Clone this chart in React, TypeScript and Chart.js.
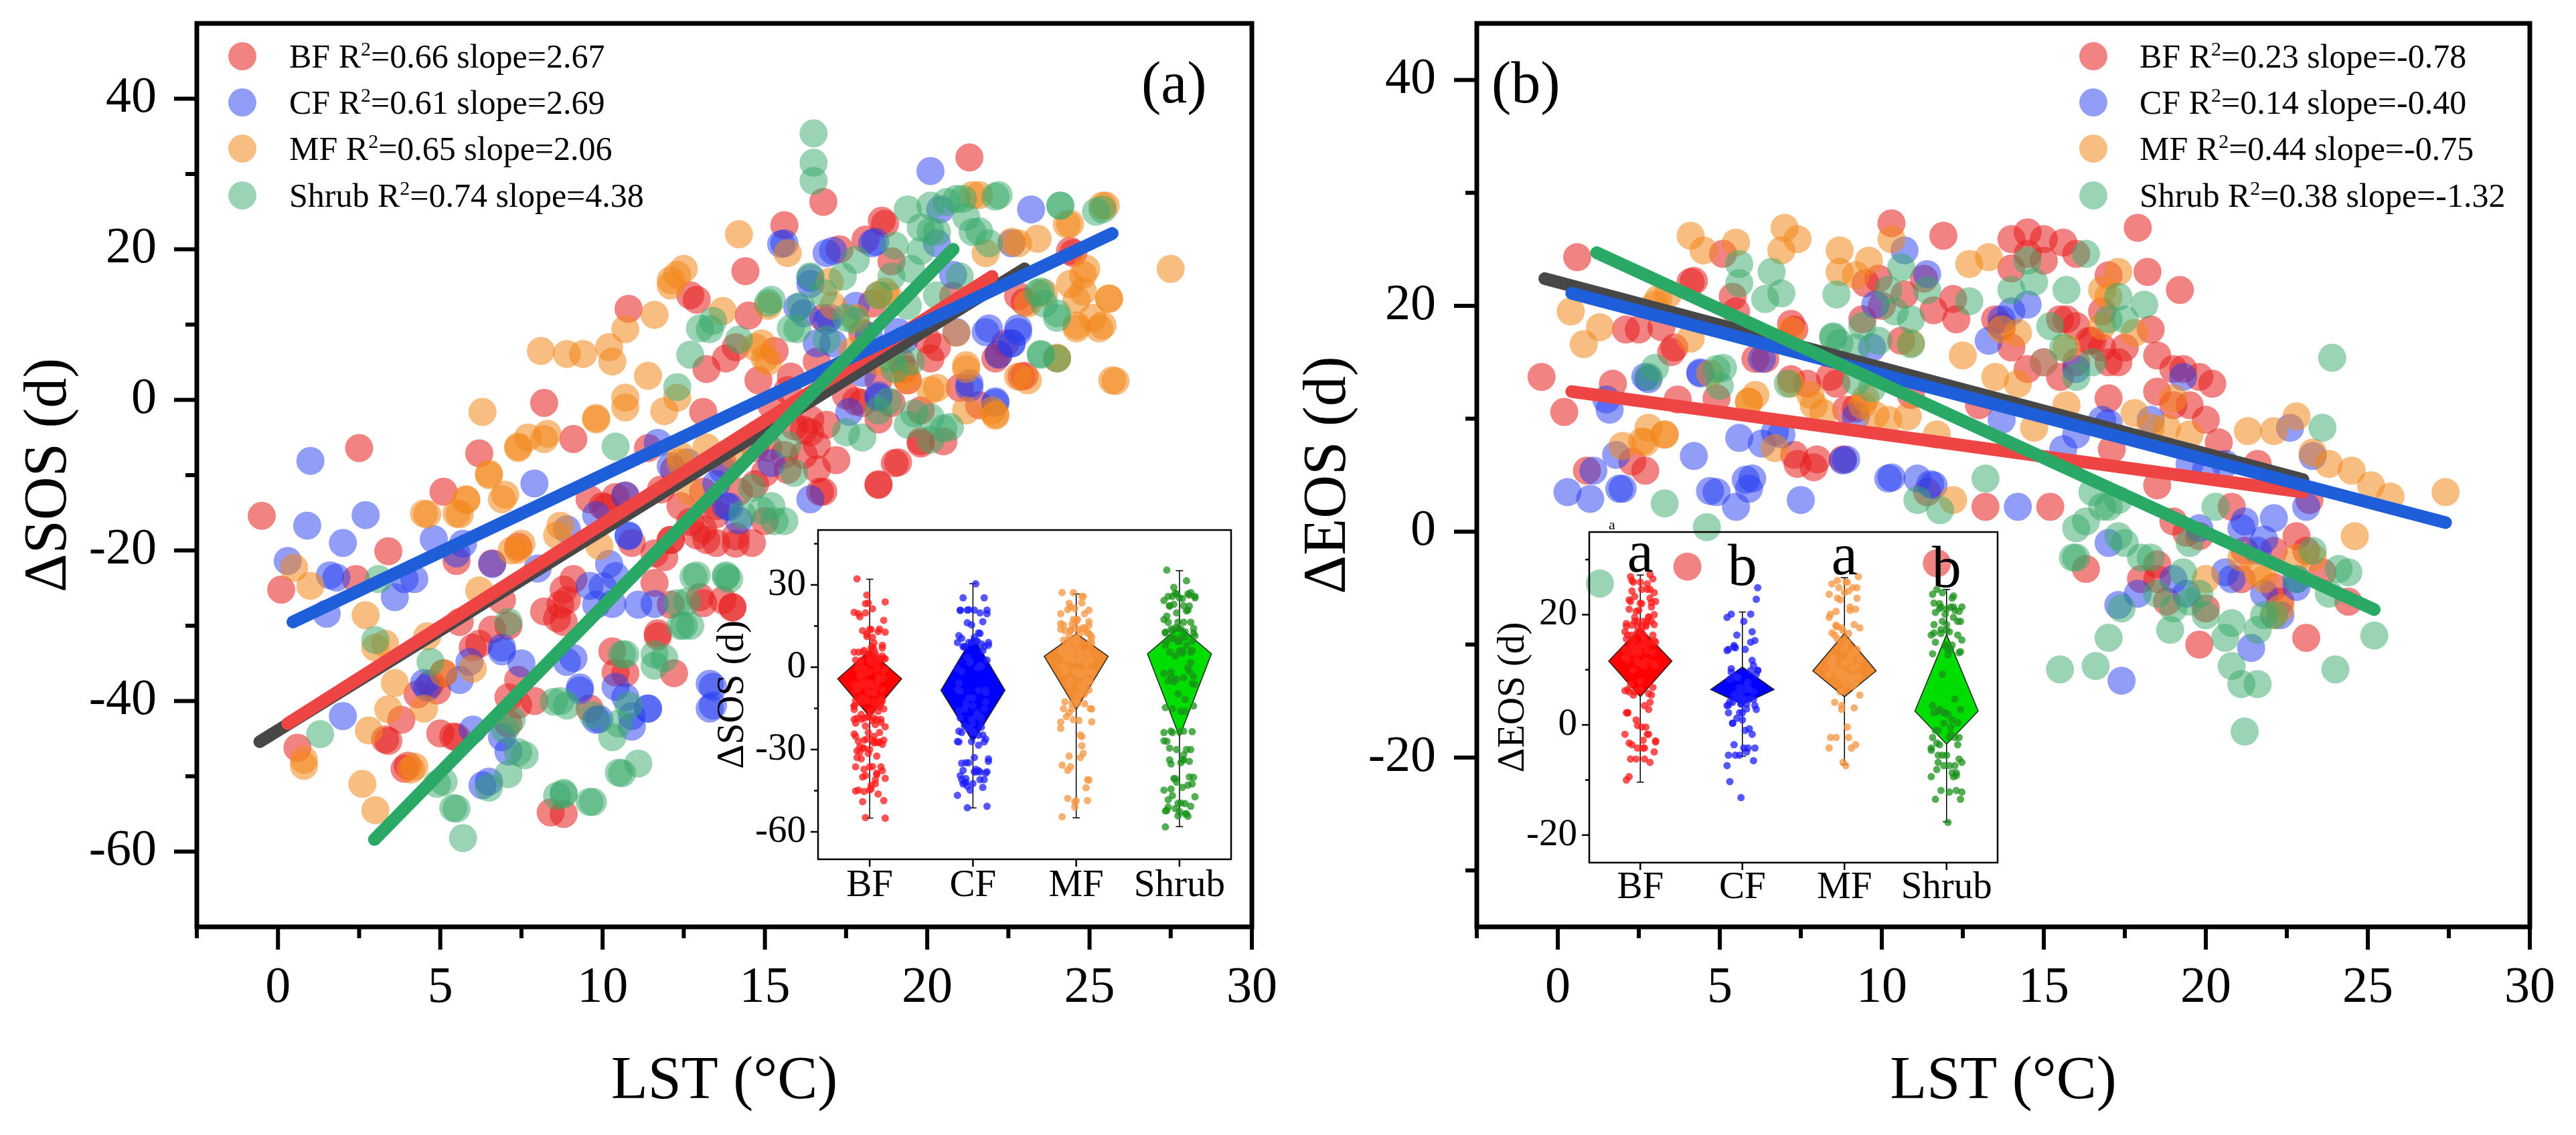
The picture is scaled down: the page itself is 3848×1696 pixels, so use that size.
import { useEffect, useRef } from 'react';
import { Chart, registerables } from 'chart.js';

Chart.register(...registerables);
Chart.defaults.font.family = "'Liberation Serif', 'Times New Roman', serif";
Chart.defaults.color = '#000';

type P = [number, number];

const CATS = ['BF', 'CF', 'MF', 'Shrub'];
const X_TICKS = [0, 5, 10, 15, 20, 25, 30];
const X_MINOR = [-2.5, 2.5, 7.5, 12.5, 17.5, 22.5, 27.5];
const SOS_TICKS = [-60, -40, -20, 0, 20, 40];
const SOS_MINOR = [-50, -30, -10, 10, 30];
const EOS_TICKS = [-20, 0, 20, 40];
const EOS_MINOR = [-30, -10, 10, 30];
const SOS_IN_TICKS = [-60, -30, 0, 30];
const SOS_IN_MINOR = [-45, -15, 15, 45];
const EOS_IN_TICKS = [-20, 0, 20];
const EOS_IN_MINOR = [-10, 10, 30];

const SOS_R2 = [0.66, 0.61, 0.65, 0.74];
const SOS_SLOPE = [2.67, 2.69, 2.06, 4.38];
const EOS_R2 = [0.23, 0.14, 0.44, 0.38];
const EOS_SLOPE = [-0.78, -0.40, -0.75, -1.32];

// ΔSOS vs LST
const SOS_BF: P[] = [[-0.5,-15.4],[0.1,-25.2],[2.5,-6.4],[3.4,-20.1],[2.4,-23.8],[3.3,-45.1],[3.8,-42.5],[3.9,-49],[5.1,-12.2],[5.4,-44.7],[6.2,-7.1],[6.2,-32.4],[5.6,-29.5],[6.9,-26.6],[7.1,-43],[8.2,-0.4],[9.1,-5.2],[8.4,-54.8],[8.8,-55],[8.9,-26.6],[8.6,-29],[9.1,-23.8],[10.8,12.1],[10,-14.1],[10.7,-12.7],[10.3,-33.4],[10.7,-36.3],[11.7,-31.4],[11.6,-20.4],[11.9,-20.9],[12.9,13.3],[13.2,4.1],[13.1,-1.6],[13.7,-8.4],[13.5,-14.1],[13.7,-26.6],[14.4,17.1],[14.1,7],[14.7,-6.4],[15,-16.1],[15.6,23.2],[15.2,-0.7],[15.7,-9.3],[16.4,-2.6],[16.8,-12.2],[16.8,26.3],[17.3,20],[18,8.9],[17.8,-0.2],[18.5,-11.3],[18.7,23.4],[19,-8.4],[19.3,4.1],[19.8,-5.5],[20,8],[20.8,13.8],[21.3,32.2],[21.6,-0.7],[22.2,6.1],[23,3.2],[22.8,13.8],[24.5,19.5],[17,3.2],[18.5,-2.6],[18.3,12.8],[16.8,10.9],[15.7,1.3],[14.8,-4.5],[14.2,-12.2],[12.4,-14.1],[12.2,-9.3],[11.4,-6.4],[9.6,-13.2],[12.9,-18],[12.2,-36.3],[9.6,-41],[7.9,-40],[4.7,-37.7],[5.1,-36.3],[6.6,-30.5],[4.3,-39.1],[7.4,-37.2],[16.2,-4],[16.6,-6],[17.2,-8],[15.9,-3.5],[20.5,-5.5],
  [18.6,23.8],[18.1,21.3],[18.9,18.4],[12.7,13.9],[14.5,11.2],[13.8,5.5],[15.3,6.5],[14.8,2.6],[15.8,3.1],[16.6,5.1],[18.5,2.6],[19.2,5.1],[20.1,5.5],[20.3,7],[19.4,2.6],[18,-0.4],[17.5,0.6],[18.9,-0.4],[19.8,-1.4],[21,1.6],[22.1,5.5],[23,13],[24.4,19.8],[22.9,3.1],[22.4,7.5],[16.9,-3.3],[16.4,-4.3],[15.6,-7.3],[15.1,-6.3],[15,-9.7],[14.7,-11.2],[13.1,-12.2],[16.6,-9.2],[16.7,-12.2],[16.2,-7.3],[18.5,-11.2],[19.1,-8.3],[19.8,-5.8],[13.2,-18.6],[14.1,-19.1],[12.1,-18.6],[13.5,-15.2],[12.7,-16.2],[13.1,-27],[14,-27.5],
  [5.5,-21.4],[6.6,-21.7],[7.4,-19.5],[10.4,-12.9],[10.1,-14.3],[11.8,-11.9],[10.9,-19],[12.1,-18.6],[13.1,-17.2],[13.5,-19],[14.1,-18.1],[8.8,-25.2],[8.7,-27.2],[8.8,-29.5],[8.2,-28.1],[7.1,-30],[6,-32.9],[4.9,-38.6],[3.4,-45.3],[4,-48.6],[5,-44.3],[5.5,-44.8],[0.6,-46.2],[7.1,-39.5],[7.4,-40.5],[10.4,-36.2],[11.7,-31],[12.1,-27.2],[13,-26.2],[11.6,-24.3],[14,-27.6],[14.6,-19]];
const SOS_CF: P[] = [[1,-8.1],[0.9,-16.7],[0.3,-21.4],[2.7,-15.3],[2,-19],[1.6,-23.3],[1.5,-28.4],[2,-42],[3.6,-26.2],[4.2,-23.8],[4.8,-18.5],[4.6,-38.2],[6.3,-51.2],[6.5,-50.7],[6.9,-32.9],[7.5,-35],[6.6,-21.8],[7.9,-11.1],[9.1,-34.3],[9.3,-38.2],[9.8,-42.5],[9.6,-24.7],[10.2,-21.8],[10.3,-27.1],[10.8,-18],[10.9,-42],[11.4,-41],[11.6,-27.1],[11.7,-5.7],[13.3,-37.7],[13.4,-40.6],[13.7,-9.3],[13.8,-14.1],[15.5,20.7],[16,12.3],[16.4,16.2],[16.9,19.5],[17,10.9],[17.6,-1.6],[18.5,0.3],[18.4,21],[19.3,8],[20.1,30.4],[20.4,25.3],[20.8,16.6],[21.3,2.2],[21.8,9],[22.1,-0.2],[22.6,7.5],[23.2,25.3],[22.8,9],[14.2,-16],[15.2,-8.4],[16.4,-13.2],[10.7,-12.7],[5.5,-20.4],
  [15.6,20.8],[17.1,19.8],[18.3,20.8],[20.3,20.8],[22.6,20.8],[16.9,10.5],[18.2,8.5],[19.1,9],[20.9,9],[21.9,9.5],[22.6,7.5],[22.2,6],[21.3,1.6],[22.1,-0.4],[22.8,9.5],[17.1,7.5],[16.6,7.5],[16.4,15.4],[16.2,11.5],[17.8,12.5],[13.9,-14.2],[12.6,-8.3],[13.5,-11.2],[12.1,-8.8],[18.5,0.6],[18,3.6],[17,2.6],
  [1.8,-23.6],[3.9,-23.8],[5.7,-19.1],[5.9,-34.8],[6.9,-33.4],[5.6,-37.2],[4.5,-37.6],[6,-43.8],[6.9,-44.8],[7.1,-46.7],[8.9,-17.2],[9.8,-15.3],[9.8,-27.2],[10.4,-23.4],[11.1,-27.2],[10,-24.8],[8.9,-34.8],[9.3,-38.6],[9.9,-42.4],[10.7,-39.5],[11.4,-41],[10.9,-43.4],[10.4,-38.1],[13.4,-38.1],[13.3,-41],[10.8,-18.1],[8,-22.4]];
const SOS_MF: P[] = [[0.5,-22.3],[1,-24.7],[0.8,-47.8],[0.8,-48.6],[2.6,-51],[3,-54.5],[2.7,-28.6],[3.3,-32.4],[3.4,-41.1],[4.2,-48.7],[4.5,-15.1],[4.6,-31.4],[5.1,-36.3],[5.5,-15.1],[5.8,-13.2],[6.3,-1.6],[6.5,-9.8],[6.9,-13.2],[7.4,-19.9],[7.4,-6.4],[8.1,6.5],[8.3,-4.5],[8.9,6.1],[9.4,6.1],[9.8,-2.6],[10.2,7],[10.3,5.1],[10.7,9.4],[10.7,0.3],[11.4,3.2],[11.6,11.3],[12.1,15.2],[12.3,16.6],[12.3,0.3],[12.4,-7.4],[14.2,22],[13.7,11.8],[14.7,7],[15.1,5.1],[15.7,19.5],[17,15.7],[17.8,10.9],[18.8,13.8],[19.3,3.2],[20.1,1.3],[21.6,27.2],[21.8,19.5],[22.1,-2.1],[22.6,21],[23.1,12.8],[23.4,21.4],[24,5.6],[24.4,23.4],[24.6,9.9],[24.8,16.6],[25.1,10.9],[25.4,9.9],[25.5,25.8],[25.6,13.5],[25.8,2.5],[27.5,17.4],[24.6,13.3],[23.6,14.2],[21.2,4.1],[20.9,8.9],[9.9,-19.4],[8.6,-18],[2.8,-43.9],
  [12.5,17.4],[12.1,15.9],[15.1,12.5],[14.9,7.5],[17.1,12.5],[18.7,14.4],[21.4,27.2],[25.4,25.8],[24.3,23.3],[22.8,20.8],[24.9,17.4],[24.4,15.4],[24.8,14.4],[25.6,13.4],[25.3,9.5],[24.6,9.5],[24,5.5],[23.1,2.6],[22.8,3.1],[22.1,-1.9],[25.7,2.6],[21.2,4.6],[20.3,1.6],[19.4,2.6],[18.5,13.9],[18.5,5.1],[18,6.5],[21.2,-1.4],[22,-1.4],[15,5.5],[14,-7.3],[13.2,-6.3],[12.4,-8.3],[12.7,-12.2],[17.7,6.5],
  [7.4,-6.2],[7.7,-5],[8.2,-5.2],[6.5,-10],[7,-12.6],[5.8,-13.3],[4.6,-15.2],[5.6,-15.2],[9.8,-2.4],[10.7,-1],[11.9,-1.5],[7.5,-19.1],[7.2,-20],[3,-32.9],[3.6,-37.6],[4.5,-41],[4.1,-49.1],[6,-35.7],[6.2,-25.3],[8.7,-16.7]];
const SOS_SHRUB: P[] = [[3.1,-23.8],[3,-31.9],[1.3,-44.4],[5.1,-50.7],[5.4,-54.2],[5.7,-58.2],[7.1,-49.7],[7.4,-46.8],[7.2,-42.5],[8.6,-52.6],[8.8,-52.2],[9.6,-53.4],[8.9,-40.6],[8.5,-40.1],[10.5,-49.5],[11.1,-48.3],[10.5,-43],[10.8,-40.6],[10.4,-6.2],[10.7,-33.8],[11.6,-33.8],[11.9,-34.3],[12.4,-30],[12.6,-26.8],[12.9,-23.3],[13.8,-23.3],[12.3,1.7],[13.3,9.4],[14.2,8],[14.6,-11.7],[15.2,13.3],[15.7,-6],[16,9.4],[16.5,35.4],[16.5,31.5],[16.5,29.1],[16.8,14.2],[17.5,10.9],[18,-5],[18.8,-0.2],[19,4.1],[19.4,25.3],[19.5,5.1],[20.1,22.4],[20.6,26.3],[20.9,26.7],[21.2,24.3],[21.6,22.4],[20.7,-3.6],[22.2,27.2],[23.4,14.2],[23.6,12.8],[24,10.9],[24.1,25.8],[23.5,6.1],[25.4,25.3],[17.8,18.6],[19,20.5],[19.8,22.9],[15.2,-14.1],[15.6,-16.1],
  [20.1,25.8],[21.1,26.7],[22.1,27],[24.1,25.8],[25.2,25],[20.3,22.3],[21.4,22.3],[19.8,19.8],[19.5,17.4],[18.9,16.4],[18.5,13.9],[17.4,16.4],[16.4,16.4],[16.1,12.5],[15.1,12.9],[13.4,10.5],[13,9.5],[12.7,6],[15.8,9.5],[16.9,8],[17.8,10.5],[19.4,12.5],[20.3,13.9],[21,16.4],[21.9,20.8],[23.5,14.4],[24,11.5],[23.5,6],[24,5.5],[18.5,-1.4],[17.5,-4.3],[20.1,-2.3],[20.5,-3.8],[19.6,-1.8],[18.9,5.5],[15.9,-9.7],[14.9,-14.7],[15.3,-16.1],[14.3,-15.2],[12.8,-23.5],[13.8,-23.5],[12.3,-27],[12.5,-30],[20.1,-5.3],[19.4,-3.3],
  [4.7,-34.8],[4.9,-51],[5.5,-54.3],[6.5,-51.5],[7.6,-47.2],[7,-43.8],[7.1,-29.5],[8.7,-40],[9.7,-41.9],[10.3,-44.8],[10.6,-33.8],[11.6,-35.3],[12.7,-30],[10.6,-49.6],[8.8,-52.4],[9.7,-53.4],[13.9,-23.8]];

// ΔEOS vs LST
const EOS_BF: P[] = [[-0.5,13.7],[0.2,10.6],[0.6,24.3],[0.9,5.4],[1.7,13.1],[2.1,17.9],[2.5,17.9],[2.7,5.4],[3.6,16.3],[4.1,22.1],[4.9,11.8],[5.1,24.6],[5.5,19.5],[6.4,15.3],[7.3,17.9],[7.4,6],[7.9,5.7],[8.4,13.7],[8.9,10.8],[9.4,18.8],[9.9,22.4],[10.3,27.3],[10.6,16.9],[10.9,12.1],[11.4,3.5],[11.9,26.2],[12.3,18.8],[13,11.2],[13.2,2.2],[13.7,18.2],[14,25.9],[14.5,26.5],[15,25.9],[15.2,2.2],[15.6,25.6],[15.7,18.8],[16,18.2],[16.4,16.9],[16.3,-3.3],[16.8,19.5],[17,11.8],[17.3,15],[17.5,16.3],[17.9,26.9],[18.2,23],[18.3,17.9],[18.5,12.4],[18.5,-4.2],[19,14.4],[19.2,21.4],[19.5,11.2],[19.8,-10],[19.8,-0.4],[20,9.9],[20.2,13.1],[20.4,7.9],[20.8,2.2],[21.2,-1.7],[21.6,6],[22.1,-4.9],[22.8,-0.4],[23.1,-9.4],[23.2,2.8],[24.4,-6.2],[4,-3.1],[11.7,-2.8],[17.1,7.3],[18.5,4.1],[19.4,-0.1],
  [2.3,6.2],[3.5,15.9],[3.2,18.1],[4.2,22.2],[5.4,20.8],[7.2,18.4],[3.7,11.7],[6.1,15.3],[7.3,6.8],[8,6.4],[8.8,6.4],[7.2,13.5],[8.6,13.1],[10,20],[9.5,22],[10.7,21],[11.6,19.6],[12.2,20.6],[11.3,22.4],[9.2,10.9],[7.7,13.1],
  [14.5,24.6],[15.5,18.8],[16.5,16.9],[16,15],[16.8,16.3],[17,15],[15.5,13.7],[18.5,15.6],[19.3,14.4],[19.8,13.7],[19,11.2],[14.5,14.4],[14,16.3],[13.5,18.8],[14,23.3],[15,24],[16,24.6],[17,22.7],[23.1,-1.7],[19,0.9],[18.5,-2.9],[18,-4.2],[18.8,-6.2],[20,-6.8],[21.1,-4.2],[22.1,-1.7],[22.3,-6.2],[23.6,-3.6]];
const EOS_CF: P[] = [[0.3,3.5],[1,2.9],[1.1,5.4],[1.6,10.8],[1.9,3.8],[2.7,13.7],[4.2,6.7],[4.4,14],[4.9,3.5],[5.5,2.2],[5.6,8.3],[6,4.7],[6.9,8.6],[7.5,2.8],[8.8,6.3],[9.2,10.2],[9.8,20.1],[10.2,4.7],[10.7,24.9],[11.1,4.7],[11.6,4.1],[13.3,16.9],[14.2,2.2],[14,19.5],[15.6,7.3],[16,14.4],[17.3,-6.5],[17.4,-13.2],[17.9,-5.5],[19,-4.2],[19.4,-5.5],[20.8,-4.2],[21.2,0.9],[21.4,-10.3],[21.8,-0.7],[22.1,1.2],[22.6,9.2],[22.8,-4.2],[17,9.6],[18.3,9.9],[20.6,6],[13.7,9.9],[17,-1],[19.8,0.3],
  [1.5,11.7],[1.8,6.8],[2.8,13.5],[2,3.8],[4.4,14.1],[5.8,4.6],[5.9,3.8],[4.7,3.6],[6.3,7.8],[6.7,8.8],[6.3,15.3],[10.3,4.8],[11.5,4.2],[8.9,6.4],[9.7,16.3],[11.4,22.8],
  [13.7,18.8],[14.5,20.1],[15,15],[16,8.6],[16.8,9.9],[19.3,13.7],[21.1,0.3],[21.6,-1.7],[21.8,-5.5],[22.3,-7.4],[22.8,-4.9],[20.6,-3.6],[19.5,6],[20,5.4],[23.1,2.2],[23.3,6.7]];
const EOS_MF: P[] = [[0.4,19.5],[0.8,16.6],[1.3,18.1],[2,7.6],[2.7,7.9],[3,20.1],[3.3,8.6],[4.1,26.2],[4.5,24.9],[4.7,14],[5.5,25.6],[5.9,11.5],[6.9,24.9],[7,26.9],[7.4,25.9],[8.2,10.5],[8.7,24.9],[9.2,22.7],[9.5,11.8],[10.3,25.9],[10.8,10.2],[11.7,8.6],[12.2,2.8],[12.7,23.7],[13.3,24.3],[13.7,17.9],[14.2,13.1],[14.7,9.2],[15.7,11.2],[16.8,21.4],[17.3,23],[17.8,10.5],[18.8,9.2],[19,11.8],[20,-4.2],[21.3,8.9],[22.1,8.9],[22.1,-7.4],[22.8,10.2],[23.3,7],[23.8,6],[24.5,5.4],[24.6,-0.4],[25.1,4.1],[25.7,3.1],[27.4,3.5],[21.8,-4.2],[23.3,-2.3],
  [3.1,20.6],[3.4,21],[4.1,17.1],[5.9,11.5],[6.1,12.1],[7.2,17.8],[8.7,23],[9.6,24],[10.9,16.7],[2.6,8],[2.8,9.2],[3.3,8.6],[6.7,7.4],[7.8,12.1],[9.8,10.3],[10.2,9.9],
  [14.2,17.6],[15,15],[15.7,16.3],[16.8,18.2],[17.8,17.6],[18.3,9.2],[19.5,8.6],[21.1,-2.3],[21.6,-3.6],[22.3,-6.8],[22.8,-2.3],[17,20.8],[12.5,15.6],[13.5,13.7],[9.4,11.2],[7.9,11.2],[7.2,13.1]];
const EOS_SHRUB: P[] = [[1.3,-4.6],[2.8,13.7],[3.3,2.5],[4.6,0.4],[4.9,14.4],[5.6,23.7],[6.6,23],[6.9,21.1],[7.1,13.1],[8.5,17.2],[9.4,18.2],[10.4,19.5],[10.9,16.6],[11.1,2.8],[11.8,1.9],[12.7,20.4],[13.2,4.7],[14.5,24],[15.5,-12.2],[15.9,-2.3],[16.3,24.6],[16.6,-11.9],[16.8,2.2],[17,-9.4],[17.3,-0.4],[17.4,-6.8],[17.5,18.8],[18.1,20.1],[18.3,-2.3],[18.9,-8.7],[19.3,-3.6],[19.5,-6.2],[19.8,-5.5],[20.3,2.2],[20.6,-9.4],[20.8,-11.9],[21.1,-13.5],[21.2,-17.7],[21.6,-13.5],[21.8,-7.4],[23.6,9.2],[23.9,15.4],[24,-12.2],[24.1,-3.3],[25.2,-9.2],[16,0.3],[9.2,16.3],[10.2,21.4],[19.5,-1],[15.6,16.3],
  [3,14.5],[5,12.9],[5.1,14.5],[5.6,22],[6.4,20.6],[8.6,21],[8.7,16.7],[10.6,23.4],[8.5,17.3],[9.2,13.3],[9.7,12.7],
  [17.5,-1],[18,-2.3],[18.5,-5.5],[19,-6.8],[20,-7.4],[20.8,-8.1],[21.6,-8.7],[22.1,-7.4],[22.8,-4.2],[23.3,-1.7],[23.8,-5.5],[24.4,-3.6],[17,2.2],[16.5,3.5],[16.3,0.9],[17.3,2.8],[16,-2.3],[15.2,18.2],[14.7,22.1],[15.7,21.4],[14,21.4],[17,18.8],[16,13.7],[16.5,15],[17.3,20.8],[10.9,18.8],[11.4,21.4],[9.9,16.9]];

// regression lines: [start, end]
const SOS_FIT_ALL: P[] = [[-0.56, -45.4], [23.0, 17.4]];
const SOS_FIT_RED: P[] = [[0.3, -43.0], [22.0, 16.4]];
const SOS_FIT_BLUE: P[] = [[0.46, -29.5], [25.7, 22.1]];
const SOS_FIT_GREEN: P[] = [[2.97, -58.4], [20.8, 20.0]];
const EOS_FIT_ALL: P[] = [[-0.4, 22.4], [23.0, 4.6]];
const EOS_FIT_RED: P[] = [[0.43, 12.4], [23.0, 3.5]];
const EOS_FIT_BLUE: P[] = [[0.43, 21.1], [27.4, 0.8]];
const EOS_FIT_GREEN: P[] = [[1.2, 24.7], [25.2, -6.9]];

// inset diamonds and whiskers, per category
const SOS_DIA_TOP = [6.1, 11.2, 12.3, 14.8];
const SOS_DIA_MID = [-4.2, -8.4, 4.0, 4.9];
const SOS_DIA_BOT = [-18.0, -27.2, -15.4, -25.3];
const SOS_WH_HI = [32.1, 30.4, 26.7, 35.2];
const SOS_WH_LO = [-55.0, -51.3, -54.9, -58.1];
const EOS_DIA_TOP = [17.6, 10.5, 16.6, 16.4];
const EOS_DIA_MID = [11.6, 6.4, 9.8, 2.5];
const EOS_DIA_BOT = [5.1, 3.7, 5.1, -3.5];
const EOS_WH_HI = [27.2, 20.5, 26.7, 24.6];
const EOS_WH_LO = [-10.4, -5.7, -7.2, -17.6];
const EOS_LETTERS = ['a', 'b', 'a', 'b'];

const DOT = ['rgba(232,30,30,0.55)', 'rgba(35,60,240,0.5)', 'rgba(242,135,25,0.55)', 'rgba(55,170,105,0.5)'];
const FIT = { all: '#474747', red: '#ef4444', blue: '#1e5fd9', green: '#2aa866' };
const DIA = ['#ff0000', '#0000ff', '#f28a30', '#00dd00'];
const JIT = ['rgba(255,25,25,0.75)', 'rgba(30,30,255,0.75)', 'rgba(245,150,65,0.75)', 'rgba(25,145,25,0.75)'];

const toXY = (s: P[]) => s.map(([x, y]) => ({ x, y }));
const jit = (k: number) => ((((k * 37) % 23) / 22) - 0.5) * 0.3;

function zeroPad(s: any) {
  s.paddingTop = 0; s.paddingBottom = 0; s.paddingLeft = 0; s.paddingRight = 0;
}

function framePlugin(o: { xMinor: number[]; yMinor: number[]; frame: number; tw: number; major: number; minor: number }) {
  return {
    id: 'frame',
    afterDatasetsDraw(chart: any) {
      const { ctx, chartArea: a } = chart;
      const xs = chart.scales.x, ys = chart.scales.y;
      ctx.save();
      ctx.strokeStyle = '#000';
      ctx.lineWidth = o.tw;
      const xt = (v: number, len: number) => {
        const p = xs.getPixelForValue(v);
        ctx.beginPath(); ctx.moveTo(p, a.bottom); ctx.lineTo(p, a.bottom + len); ctx.stroke();
      };
      const yt = (v: number, len: number) => {
        const p = ys.getPixelForValue(v);
        ctx.beginPath(); ctx.moveTo(a.left, p); ctx.lineTo(a.left - len, p); ctx.stroke();
      };
      xs.ticks.forEach((t: any) => xt(t.value, o.major));
      o.xMinor.forEach(v => xt(v, o.minor));
      ys.ticks.forEach((t: any) => yt(t.value, o.major));
      o.yMinor.forEach(v => yt(v, o.minor));
      ctx.lineWidth = o.frame;
      ctx.strokeRect(a.left, a.top, a.right - a.left, a.bottom - a.top);
      ctx.restore();
    },
  };
}

function lettersPlugin(letters: string[], series: P[][]) {
  return {
    id: 'letters',
    afterDatasetsDraw(chart: any) {
      const { ctx, chartArea: a } = chart;
      const xs = chart.scales.x, ys = chart.scales.y;
      ctx.save();
      ctx.fillStyle = '#000';
      ctx.textAlign = 'center';
      ctx.textBaseline = 'alphabetic';
      ctx.font = "88px 'Liberation Serif'";
      letters.forEach((l, i) => {
        const top = Math.max(...series[i].map(p => p[1])) + 0.5;
        ctx.fillText(l, xs.getPixelForValue(i), ys.getPixelForValue(top));
      });
      ctx.font = "22px 'Liberation Serif'";
      ctx.fillText('a', a.left + 34, a.top - 4);
      ctx.restore();
    },
  };
}

interface MainOpts {
  series: P[][]; fits: P[][]; yMin: number; yMax: number; yTicks: number[]; yMinor: number[];
  yTitle: string; padRight: number; yWidth: number; yTickPad: number; yTitlePad: number;
}

function mainConfig(o: MainOpts): any {
  const fitColors = [FIT.green, FIT.blue, FIT.red, FIT.all];
  const fitSets = o.fits.map((f, i) => ({
    type: 'line', data: toXY(f), borderColor: fitColors[i], borderWidth: 19,
    borderCapStyle: 'round', pointRadius: 0, fill: false, tension: 0, order: i,
  }));
  const dotSets = o.series.map((s, i) => ({
    type: 'scatter', data: toXY(s), backgroundColor: DOT[i], borderWidth: 0,
    pointRadius: 21, pointHoverRadius: 21, order: 8 - i,
  }));
  return {
    type: 'scatter',
    data: { datasets: [...fitSets, ...dotSets] },
    options: {
      animation: false, responsive: false, devicePixelRatio: 1, events: [],
      layout: { padding: { top: 35, right: o.padRight, left: 0, bottom: 0 } },
      plugins: { legend: { display: false }, tooltip: { enabled: false } },
      scales: {
        x: {
          type: 'linear', min: -2.5, max: 30,
          afterBuildTicks: (s: any) => { s.ticks = X_TICKS.map(value => ({ value })); },
          afterFit: (s: any) => { s.height = 1696 - 1385; zeroPad(s); },
          grid: { display: false, drawTicks: false }, border: { display: false },
          ticks: { font: { size: 76 }, padding: 46, maxRotation: 0, autoSkip: false, callback: (v: any) => String(v) },
          title: { display: true, text: 'LST (°C)', font: { size: 90 }, padding: { top: 0, bottom: 25 } },
        },
        y: {
          type: 'linear', min: o.yMin, max: o.yMax,
          afterBuildTicks: (s: any) => { s.ticks = o.yTicks.map(value => ({ value })); },
          afterFit: (s: any) => { s.width = o.yWidth; zeroPad(s); },
          grid: { display: false, drawTicks: false }, border: { display: false },
          ticks: { font: { size: 76 }, padding: o.yTickPad, autoSkip: false, callback: (v: any) => String(v) },
          title: { display: true, text: o.yTitle, font: { size: 90 }, padding: { top: o.yTitlePad, bottom: 0 } },
        },
      },
    },
    plugins: [framePlugin({ xMinor: X_MINOR, yMinor: o.yMinor, frame: 7, tw: 6, major: 34, minor: 17 })],
  };
}

interface InsetOpts {
  series: P[][]; top: number[]; mid: number[]; bot: number[]; hi: number[]; lo: number[];
  yMin: number; yMax: number; yTicks: number[]; yMinor: number[]; yTitle: string;
  pad: { top: number; right: number }; yWidth: number; xHeight: number; xPad: number; yTitlePad: number;
  letters?: string[];
}

function insetConfig(o: InsetOpts): any {
  const hw = 0.31, cap = 0.035;
  const whisk: any[] = [];
  CATS.forEach((_, i) => {
    whisk.push({ x: i, y: o.lo[i] }, { x: i, y: o.hi[i] }, { x: i, y: null },
      { x: i - cap, y: o.hi[i] }, { x: i + cap, y: o.hi[i] }, { x: i, y: null },
      { x: i - cap, y: o.lo[i] }, { x: i + cap, y: o.lo[i] }, { x: i, y: null });
  });
  const diamonds = CATS.map((_, i) => ({
    type: 'line',
    data: [{ x: i, y: o.top[i] }, { x: i + hw, y: o.mid[i] }, { x: i, y: o.bot[i] }, { x: i - hw, y: o.mid[i] }, { x: i, y: o.top[i] }],
    borderColor: '#222', borderWidth: 1.5, backgroundColor: DIA[i], fill: 'shape', pointRadius: 0, tension: 0, order: 5,
  }));
  const dots = o.series.map((s, i) => ({
    type: 'scatter', data: s.map((p, k) => ({ x: i + jit(k), y: p[1] })),
    backgroundColor: JIT[i], borderWidth: 0, pointRadius: 5.5, order: 1,
  }));
  const plugins: any[] = [framePlugin({ xMinor: [], yMinor: o.yMinor, frame: 2.5, tw: 2.5, major: 11, minor: 6 })];
  if (o.letters) plugins.push(lettersPlugin(o.letters, o.series));
  return {
    type: 'scatter',
    data: {
      datasets: [
        ...dots, ...diamonds,
        { type: 'line', data: whisk, borderColor: '#000', borderWidth: 1.5, pointRadius: 0, fill: false, spanGaps: false, tension: 0, order: 9 },
      ],
    },
    options: {
      animation: false, responsive: false, devicePixelRatio: 1, events: [],
      layout: { padding: { top: o.pad.top, right: o.pad.right, left: 0, bottom: 0 } },
      plugins: { legend: { display: false }, tooltip: { enabled: false } },
      scales: {
        x: {
          type: 'linear', min: -0.5, max: 3.5,
          afterBuildTicks: (s: any) => { s.ticks = CATS.map((_, value) => ({ value })); },
          afterFit: (s: any) => { s.height = o.xHeight; zeroPad(s); },
          grid: { display: false, drawTicks: false }, border: { display: false },
          ticks: { font: { size: 57 }, padding: o.xPad, maxRotation: 0, autoSkip: false, callback: (v: any) => CATS[v] ?? '' },
        },
        y: {
          type: 'linear', min: o.yMin, max: o.yMax,
          afterBuildTicks: (s: any) => { s.ticks = o.yTicks.map(value => ({ value })); },
          afterFit: (s: any) => { s.width = o.yWidth; zeroPad(s); },
          grid: { display: false, drawTicks: false }, border: { display: false },
          ticks: { font: { size: 57 }, padding: 18, autoSkip: false, callback: (v: any) => String(v) },
          title: { display: true, text: o.yTitle, font: { size: 57 }, padding: { top: o.yTitlePad, bottom: 0 } },
        },
      },
    },
    plugins,
  };
}

function ChartCanvas({ config, left, top, width, height }: { config: () => any; left: number; top: number; width: number; height: number }) {
  const ref = useRef<HTMLCanvasElement>(null);
  useEffect(() => {
    if (!ref.current) return;
    const c = new Chart(ref.current, config());
    return () => c.destroy();
  }, []);
  return (
    <canvas ref={ref} width={width} height={height}
      style={{ position: 'absolute', left, top, width, height }} />
  );
}

const ROW_Y = [84, 153, 222, 292];

function Legend({ cx, textLeft, r2, slope }: { cx: number; textLeft: number; r2: number[]; slope: number[] }) {
  return (
    <>
      {CATS.map((c, i) => (
        <div key={c}>
          <div style={{ position: 'absolute', left: cx - 21, top: ROW_Y[i] - 21, width: 42, height: 42, borderRadius: '50%', background: DOT[i] }} />
          <div style={{ position: 'absolute', left: textLeft, top: ROW_Y[i] - 35, height: 70, lineHeight: '70px', fontSize: 50, whiteSpace: 'nowrap' }}>
            {c} R<sup style={{ fontSize: 30, lineHeight: 0 }}>2</sup>={r2[i].toFixed(2)} slope={slope[i].toFixed(2)}
          </div>
        </div>
      ))}
    </>
  );
}

export default function App() {
  const serif = "'Liberation Serif', 'Times New Roman', serif";
  return (
    <div style={{ position: 'absolute', left: 0, top: 0, width: 3848, height: 1696, background: '#fff', fontFamily: serif, color: '#000', overflow: 'hidden' }}>
      <ChartCanvas left={0} top={0} width={1924} height={1696} config={() => mainConfig({
        series: [SOS_BF, SOS_CF, SOS_MF, SOS_SHRUB], fits: [SOS_FIT_GREEN, SOS_FIT_BLUE, SOS_FIT_RED, SOS_FIT_ALL],
        yMin: -70, yMax: 50, yTicks: SOS_TICKS, yMinor: SOS_MINOR, yTitle: 'ΔSOS (d)',
        padRight: 54, yWidth: 294, yTickPad: 60, yTitlePad: 20,
      })} />
      <ChartCanvas left={1924} top={0} width={1924} height={1696} config={() => mainConfig({
        series: [EOS_BF, EOS_CF, EOS_MF, EOS_SHRUB], fits: [EOS_FIT_GREEN, EOS_FIT_BLUE, EOS_FIT_RED, EOS_FIT_ALL],
        yMin: -35, yMax: 45, yTicks: EOS_TICKS, yMinor: EOS_MINOR, yTitle: 'ΔEOS (d)',
        padRight: 69, yWidth: 282, yTickPad: 61, yTitlePad: 7,
      })} />
      <ChartCanvas left={1060} top={760} width={800} height={640} config={() => insetConfig({
        series: [SOS_BF, SOS_CF, SOS_MF, SOS_SHRUB], top: SOS_DIA_TOP, mid: SOS_DIA_MID, bot: SOS_DIA_BOT, hi: SOS_WH_HI, lo: SOS_WH_LO,
        yMin: -70, yMax: 50, yTicks: SOS_IN_TICKS, yMinor: SOS_IN_MINOR, yTitle: 'ΔSOS (d)',
        pad: { top: 32, right: 21 }, yWidth: 162, xHeight: 116, xPad: 6, yTitlePad: 1,
      })} />
      <ChartCanvas left={2200} top={760} width={810} height={640} config={() => insetConfig({
        series: [EOS_BF, EOS_CF, EOS_MF, EOS_SHRUB], top: EOS_DIA_TOP, mid: EOS_DIA_MID, bot: EOS_DIA_BOT, hi: EOS_WH_HI, lo: EOS_WH_LO,
        yMin: -25, yMax: 35, yTicks: EOS_IN_TICKS, yMinor: EOS_IN_MINOR, yTitle: 'ΔEOS (d)',
        pad: { top: 35, right: 26 }, yWidth: 174, xHeight: 111, xPad: 4, yTitlePad: 27, letters: EOS_LETTERS,
      })} />
      <Legend cx={362} textLeft={432} r2={SOS_R2} slope={SOS_SLOPE} />
      <Legend cx={3127} textLeft={3196} r2={EOS_R2} slope={EOS_SLOPE} />
      <div style={{ position: 'absolute', left: 1705, top: 80, fontSize: 88, lineHeight: 1 }}>(a)</div>
      <div style={{ position: 'absolute', left: 2228, top: 80, fontSize: 88, lineHeight: 1 }}>(b)</div>
    </div>
  );
}
